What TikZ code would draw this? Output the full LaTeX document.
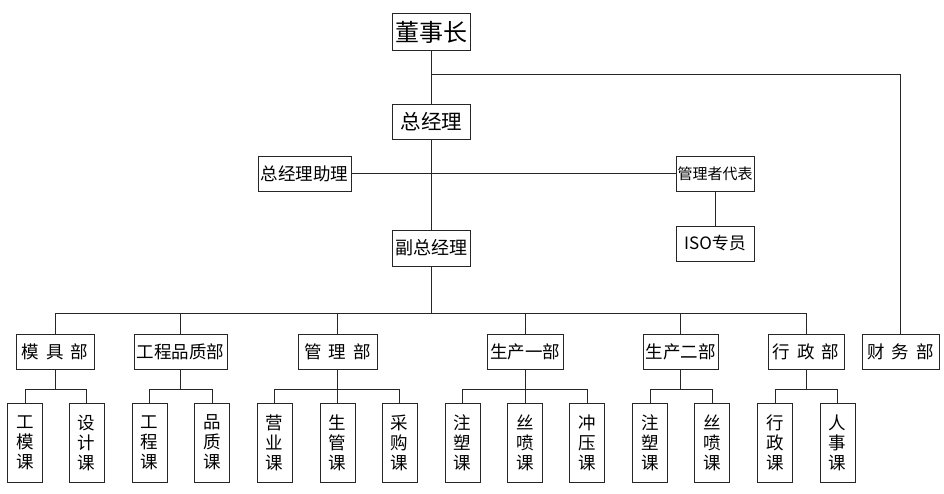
\documentclass[tikz,border=0pt]{standalone}
\usepackage{fontspec}
\setmainfont{Noto Sans CJK SC}
\newcommand{\gp}{\hspace{0.4em}}
\tikzset{
  box/.style={draw=black!85, line width=0.8pt, rectangle, inner sep=0pt, align=center},
  sub/.style={box, minimum width=35pt, minimum height=79pt, font=\fontsize{17.5}{20}\selectfont},
  dept/.style={box, minimum height=35pt, font=\fontsize{17.5}{20}\selectfont},
  conn/.style={draw=black!85, line width=0.8pt}
}
\begin{document}
\begin{tikzpicture}[x=1pt,y=-1pt]
\useasboundingbox (0,0) rectangle (944,493);
% top levels
\node[box, minimum width=78pt, minimum height=37pt, font=\fontsize{24}{26}\selectfont] (dsz) at (431.5,32) {董事长};
\node[box, minimum width=78pt, minimum height=35pt, font=\fontsize{20.5}{23}\selectfont] (zjl) at (431.5,121.5) {总经理};
\node[box, minimum width=93pt, minimum height=35pt, font=\fontsize{17.5}{20}\selectfont] (zl) at (304.5,173.5) {总经理助理};
\node[box, minimum width=78pt, minimum height=35pt, font=\fontsize{15}{17}\selectfont] (gld) at (715,173.5) {管理者代表};
\node[box, minimum width=78pt, minimum height=35pt, font=\fontsize{17}{20}\selectfont] (iso) at (715,243.5) {ISO专员};
\node[box, minimum width=78pt, minimum height=36pt, font=\fontsize{18}{21}\selectfont] (fzjl) at (431.5,248) {副总经理};
% departments
\node[dept, minimum width=78pt] (mj) at (55,351.5) {模\gp 具\gp 部};
\node[dept, minimum width=93pt] (gc) at (180.5,351.5) {工程品质部};
\node[dept, minimum width=79pt] (gl) at (337.5,351.5) {管\gp 理\gp 部};
\node[dept, minimum width=76pt] (sc1) at (525,351.5) {生产一部};
\node[dept, minimum width=75pt] (sc2) at (680.5,351.5) {生产二部};
\node[dept, minimum width=76pt] (xz) at (806,351.5) {行\gp 政\gp 部};
\node[dept, minimum width=77pt] (cw) at (900.5,351.5) {财\gp 务\gp 部};
% sections
\node[sub] (s1) at (25,442.5) {工\\模\\课};
\node[sub] (s2) at (86.5,442.5) {设\\计\\课};
\node[sub] (s3) at (149.5,442.5) {工\\程\\课};
\node[sub] (s4) at (212,442.5) {品\\质\\课};
\node[sub] (s5) at (274.5,442.5) {营\\业\\课};
\node[sub] (s6) at (337.5,442.5) {生\\管\\课};
\node[sub] (s7) at (399.5,442.5) {采\\购\\课};
\node[sub] (s8) at (462.5,442.5) {注\\塑\\课};
\node[sub] (s9) at (525,442.5) {丝\\喷\\课};
\node[sub] (s10) at (587,442.5) {冲\\压\\课};
\node[sub] (s11) at (650,442.5) {注\\塑\\课};
\node[sub] (s12) at (712,442.5) {丝\\喷\\课};
\node[sub] (s13) at (775,442.5) {行\\政\\课};
\node[sub] (s14) at (837.5,442.5) {人\\事\\课};
% coordinates
\coordinate (j1) at (431.5,74);
\coordinate (bus) at (431.5,313);
\coordinate (sb) at (0,389);
% connectors
\draw[conn] (dsz.south) -- (zjl.north);
\draw[conn] (j1) -| (cw.north);
\draw[conn] (zjl.south) -- (fzjl.north);
\draw[conn] (zl.east) -- (gld.west);
\draw[conn] (gld.south) -- (iso.north);
\draw[conn] (fzjl.south) -- (bus);
\draw[conn] (mj.north) |- (bus);
\draw[conn] (xz.north) |- (bus);
\foreach \d in {gc,gl,sc1,sc2} { \draw[conn] (\d.north) -- (\d.north |- bus); }
% department to sections
\foreach \d in {mj,gc,gl,sc1,sc2,xz} { \draw[conn] (\d.south) -- (\d.south |- sb); }
\draw[conn] (s1.north) |- (mj.south |- sb);
\draw[conn] (s2.north) |- (mj.south |- sb);
\draw[conn] (s3.north) |- (gc.south |- sb);
\draw[conn] (s4.north) |- (gc.south |- sb);
\draw[conn] (s5.north) |- (gl.south |- sb);
\draw[conn] (s6.north) |- (gl.south |- sb);
\draw[conn] (s7.north) |- (gl.south |- sb);
\draw[conn] (s8.north) |- (sc1.south |- sb);
\draw[conn] (s9.north) |- (sc1.south |- sb);
\draw[conn] (s10.north) |- (sc1.south |- sb);
\draw[conn] (s11.north) |- (sc2.south |- sb);
\draw[conn] (s12.north) |- (sc2.south |- sb);
\draw[conn] (s13.north) |- (xz.south |- sb);
\draw[conn] (s14.north) |- (xz.south |- sb);
\end{tikzpicture}
\end{document}
